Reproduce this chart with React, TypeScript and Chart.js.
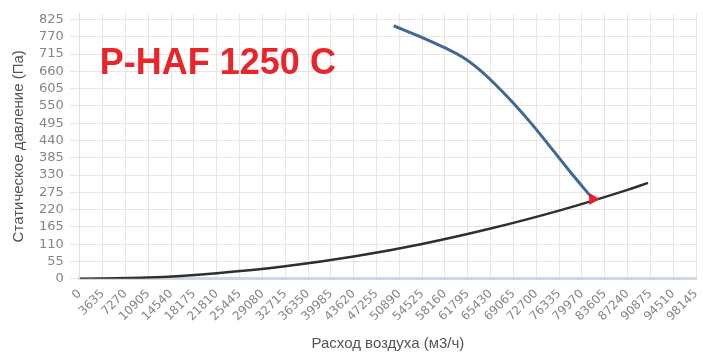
import React, { useEffect, useRef } from "react";
import { Chart, registerables } from "chart.js";

Chart.register(...registerables);

const chartTitle = "P-HAF 1250 C";
const xAxisTitle = "Расход воздуха (м3/ч)";
const yAxisTitle = "Статическое давление (Па)";

const xTicks = [0, 3635, 7270, 10905, 14540, 18175, 21810, 25445, 29080, 32715, 36350, 39985, 43620, 47255, 50890, 54525, 58160, 61795, 65430, 69065, 72700, 76335, 79970, 83605, 87240, 90875, 94510, 98145];
const yTicks = [0, 55, 110, 165, 220, 275, 330, 385, 440, 495, 550, 605, 660, 715, 770, 825];

const fanX = [50000, 54000, 58000, 61000, 63500, 66000, 69000, 72000, 75000, 78000, 81800];
const fanY = [805, 772, 736, 705, 668, 622, 560, 492, 418, 343, 252];

const sysX = [0, 10905, 21810, 32715, 43620, 54525, 65430, 76335, 87240, 90500];
const sysY = [0, 4, 18, 40, 71, 111, 160, 217, 283, 305];

const opX = [81700];
const opY = [254];

const titlePlugin = {
  id: "bigTitle",
  afterDraw(chart: any) {
    const ctx = chart.ctx;
    const area = chart.chartArea;
    ctx.save();
    ctx.fillStyle = "#e8252b";
    ctx.font = "bold 36px 'Liberation Sans', Arial, sans-serif";
    ctx.textBaseline = "alphabetic";
    ctx.fillText(chartTitle, area.left + 20, area.top + 60);
    ctx.restore();
  },
};

export default function App() {
  const ref = useRef<HTMLCanvasElement>(null);
  useEffect(() => {
    document.body.style.margin = "0";
    const chart = new Chart(ref.current!, {
      type: "line",
      data: {
        datasets: [
          {
            data: sysX.map((x, i) => ({ x, y: sysY[i] })),
            borderColor: "#2f2f2f",
            borderWidth: 2.5,
            pointRadius: 0,
            cubicInterpolationMode: "monotone",
            order: 2,
          },
          {
            data: fanX.map((x, i) => ({ x, y: fanY[i] })),
            borderColor: "#3d6a96",
            borderWidth: 3,
            pointRadius: 0,
            tension: 0.4,
            order: 1,
          },
          {
            data: opX.map((x, i) => ({ x, y: opY[i] })),
            showLine: false,
            pointStyle: "triangle",
            rotation: 90,
            pointRadius: 6,
            backgroundColor: "#e41e2e",
            borderColor: "#e41e2e",
            order: 0,
          },
        ],
      },
      options: {
        animation: false,
        responsive: true,
        maintainAspectRatio: false,
        layout: { padding: { left: 10, right: 0, top: 13, bottom: 0 } },
        plugins: { legend: { display: false }, tooltip: { enabled: false } },
        scales: {
          x: {
            type: "linear",
            min: 0,
            max: 98145,
            afterBuildTicks: (s: any) => {
              s.ticks = xTicks.map((v) => ({ value: v }));
            },
            afterFit: (s: any) => {
              s.paddingRight = 0;
            },
            ticks: {
              autoSkip: false,
              minRotation: 45,
              maxRotation: 45,
              color: "#858585",
              font: { family: "'DejaVu Sans', sans-serif", size: 12 },
              padding: 8,
              callback: (v: any) => String(v),
            },
            grid: { color: "#ece3e3", drawTicks: false },
            border: { color: "#cdd8e4", width: 3 },
            title: {
              display: true,
              text: xAxisTitle,
              color: "#555",
              font: { family: "'Liberation Sans', Arial, sans-serif", size: 15 },
              padding: { top: 3, bottom: 0 },
            },
          },
          y: {
            type: "linear",
            min: 0,
            max: 843,
            afterBuildTicks: (s: any) => {
              s.ticks = yTicks.map((v) => ({ value: v }));
            },
            ticks: {
              autoSkip: false,
              color: "#858585",
              font: { family: "'DejaVu Sans', sans-serif", size: 13 },
              padding: 6,
            },
            grid: { color: "#ece3e3", drawTicks: true, tickLength: 10, tickColor: "#e4e4e4" },
            border: { color: "#e0e0e0", width: 1 },
            title: {
              display: true,
              text: yAxisTitle,
              color: "#555",
              font: { family: "'Liberation Sans', Arial, sans-serif", size: 15 },
              padding: { top: 0, bottom: 5 },
            },
          },
        },
      },
      plugins: [titlePlugin],
    } as any);
    return () => chart.destroy();
  }, []);
  return (
    <div style={{ position: "fixed", left: 0, top: 0, width: 703, height: 353, background: "#fff" }}>
      <canvas ref={ref} />
    </div>
  );
}
